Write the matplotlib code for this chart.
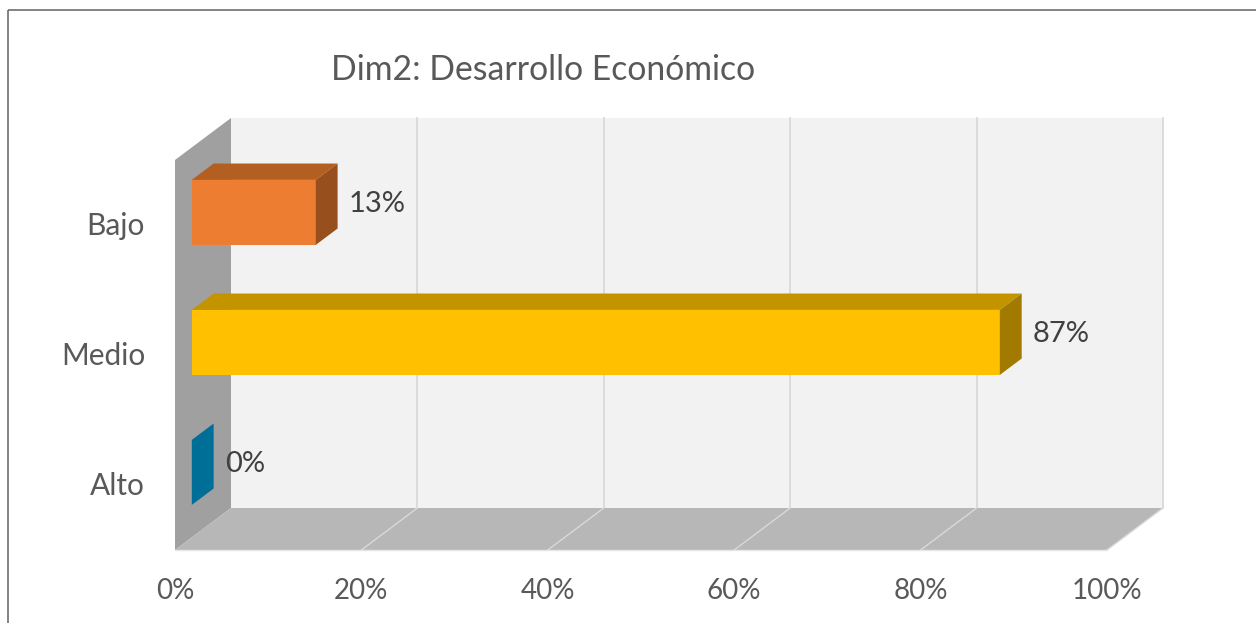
import matplotlib
matplotlib.use("Agg")
import matplotlib.pyplot as plt
from matplotlib.patches import Polygon, Rectangle

plt.rcParams["font.family"] = ["Lato", "DejaVu Sans"]

# datos del grafico
categorias = ["Alto", "Medio", "Bajo"]
porcentajes = [0.0, 86.7, 13.3]
colores_frente = ["#0077A3", "#FFC000", "#ED7D31"]
colores_arriba = ["#005F82", "#C49300", "#B45F22"]
colores_lado = ["#006F98", "#A27A00", "#97501D"]
ticks_x = [0, 20, 40, 60, 80, 100]
titulo = "Dim2: Desarrollo Económico"

# geometria de la proyeccion oblicua (pixeles)
X0, PX_POR_PCT = 175, 9.32
Y0, PX_POR_FILA = 550, 130
DX_FONDO, DY_FONDO = 56, -42
D_BARRA = (0.30, 0.69)
ALTO_BARRA = 0.5


def proy(x, y, d):
    # x en %, y en filas, d = profundidad (0 frente, 1 fondo)
    return (X0 + x * PX_POR_PCT + d * DX_FONDO,
            Y0 - y * PX_POR_FILA + d * DY_FONDO)


def cara(ax, puntos, color, z, borde="none", lw=0):
    ax.add_patch(Polygon([proy(*p) for p in puntos], closed=True,
                         facecolor=color, edgecolor=borde, lw=lw, zorder=z))


def main():
    fig = plt.figure(figsize=(12.56, 6.23), dpi=100)
    ax = fig.add_axes([0, 0, 1, 1])
    ax.set_xlim(0, 1256)
    ax.set_ylim(623, 0)
    ax.axis("off")

    n = len(categorias)
    xmax = ticks_x[-1]

    # paredes y piso
    cara(ax, [(0, 0, 1), (xmax, 0, 1), (xmax, n, 1), (0, n, 1)], "#F2F2F2", 1)
    cara(ax, [(0, 0, 0), (0, n, 0), (0, n, 1), (0, 0, 1)], "#A0A0A0", 2)
    cara(ax, [(0, 0, 0), (xmax, 0, 0), (xmax, 0, 1), (0, 0, 1)], "#B7B7B7", 2)

    for t in ticks_x[1:]:
        xs, ys = zip(proy(t, 0, 1), proy(t, n, 1))
        ax.plot(xs, ys, color="#D9D9D9", lw=1.3, zorder=1.5)
        xs, ys = zip(proy(t, 0, 0), proy(t, 0, 1))
        ax.plot(xs, ys, color="#D9D9D9", lw=1.0, zorder=2.5)
    xs, ys = zip(proy(0, 0, 0), proy(xmax, 0, 0))
    ax.plot(xs, ys, color="#E6E6E6", lw=1.0, zorder=2.5)

    # barras 3D
    d0, d1 = D_BARRA
    for i in range(n - 1, -1, -1):
        v = porcentajes[i]
        yc = i + 0.5
        y_a, y_b = yc - ALTO_BARRA / 2, yc + ALTO_BARRA / 2
        if v > 0:
            cara(ax, [(0, y_a, d0), (v, y_a, d0), (v, y_b, d0), (0, y_b, d0)],
                 colores_frente[i], 5)
            cara(ax, [(0, y_b, d0), (v, y_b, d0), (v, y_b, d1), (0, y_b, d1)],
                 colores_arriba[i], 5)
        cara(ax, [(v, y_a, d0), (v, y_b, d0), (v, y_b, d1), (v, y_a, d1)],
             colores_lado[i], 5)

        # etiqueta de datos
        ly = proy(v, yc, (d0 + d1) / 2)[1]
        lx = proy(v, yc, d1)[0] + 11
        ax.text(lx, ly, f"{v:.0f}%", ha="left", va="center",
                fontsize=21, color="#404040", zorder=6)

        # etiqueta de categoria
        cx, cy = proy(0, yc, 0)
        ax.text(cx - 30, cy + 1, categorias[i], ha="right", va="center",
                fontsize=21.5, color="#595959")

    # eje x
    for t in ticks_x:
        tx, ty = proy(t, 0, 0)
        ax.text(tx, ty + 41, f"{t}%", ha="center", va="center",
                fontsize=20, color="#595959")

    ax.text(543, 70, titulo, ha="center", va="center",
            fontsize=24.3, color="#595959")

    # borde del area del grafico
    ax.add_patch(Rectangle((8, 10), 1260, 630, facecolor="none",
                           edgecolor="#6E6E6E", lw=1.2, zorder=10,
                           clip_on=False))

    fig.savefig("out.png", dpi=100)


if __name__ == "__main__":
    main()
